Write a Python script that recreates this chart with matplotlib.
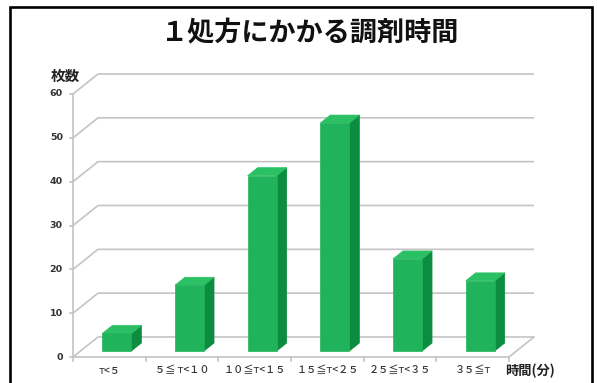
import matplotlib
matplotlib.use("Agg")
import matplotlib.pyplot as plt
from matplotlib.patches import Polygon, Rectangle

plt.rcParams['font.family'] = ['Noto Sans CJK JP', 'DejaVu Sans']

# --- data ---
title = "１処方にかかる調剤時間"
categories = ["ᴛ<５", "５≦ ᴛ<１０", "１０≦ᴛ<１５", "１５≦ᴛ<２５", "２５≦ᴛ<３５", "３５≦ᴛ"]
counts = [4, 15, 40, 52, 21, 16]
y_ticks = [0, 10, 20, 30, 40, 50, 60]
y_label = "枚数"
x_label = "時間(分)"

# --- style ---
W, H = 597, 383
green_front = "#21b35b"
green_side = "#0c8c3e"
green_top = "#2bc064"
grid_col = "#c4c4c4"

fig = plt.figure(figsize=(W / 100, H / 100), dpi=100)
fig.patch.set_facecolor("white")

# front plane of the 3D box in pixel geometry
x0, x1 = 73, 509
ybot, ytop = 357, 94
ax = fig.add_axes([x0 / W, (H - ybot) / H, (x1 - x0) / W, (ybot - ytop) / H])
n = len(categories)
ax.set_xlim(0, n)
ax.set_ylim(0, 60)
ax.axis("off")

# depth of the box expressed in data units
DX = 25 / ((x1 - x0) / n)
DY = 20 / ((ybot - ytop) / 60)

lw_grid = 1.2
# back wall and left wall gridlines
for v in y_ticks:
    ax.plot([0, DX, n + DX], [v, v + DY, v + DY], color=grid_col, lw=lw_grid,
            clip_on=False, solid_capstyle="butt", zorder=1)
# front-left axis line
ax.plot([0, 0], [0, 60], color=grid_col, lw=lw_grid, clip_on=False, zorder=1)
# floor front edge and right edge
ax.plot([0, n, n + DX], [0, 0, DY], color=grid_col, lw=lw_grid, clip_on=False, zorder=1)

# tick marks
tick_dx = 3 / ((x1 - x0) / n)
tick_dy = 4 / ((ybot - ytop) / 60)
for v in y_ticks:
    ax.plot([0, -tick_dx], [v, v], color=grid_col, lw=lw_grid, clip_on=False, zorder=1)
    ax.text(-0.14, v, str(v), ha="right", va="center", fontsize=6.8,
            fontweight="bold", color="#333333", family="DejaVu Sans")
for k in range(n + 1):
    ax.plot([k, k], [0, -tick_dy], color=grid_col, lw=lw_grid, clip_on=False, zorder=1)

# bars: front face at 30% of depth, back at 70%
f0, f1 = 0.3, 0.7
bw = 0.4
for k, v in enumerate(counts):
    xl = k + 0.5 - bw / 2
    xr = k + 0.5 + bw / 2
    ox0, oy0 = f0 * DX, f0 * DY
    ox1, oy1 = f1 * DX, f1 * DY
    front = [(xl + ox0, oy0), (xr + ox0, oy0), (xr + ox0, oy0 + v), (xl + ox0, oy0 + v)]
    side = [(xr + ox0, oy0), (xr + ox1, oy1), (xr + ox1, oy1 + v), (xr + ox0, oy0 + v)]
    top = [(xl + ox0, oy0 + v), (xr + ox0, oy0 + v), (xr + ox1, oy1 + v), (xl + ox1, oy1 + v)]
    for pts, c in ((side, green_side), (top, green_top), (front, green_front)):
        ax.add_patch(Polygon(pts, closed=True, facecolor=c, edgecolor=c, lw=0.5,
                             clip_on=False, zorder=3))
    ax.text(k + 0.5, -3.1, categories[k], ha="center", va="center", fontsize=7.3,
            fontweight="medium", color="#333333")

# axis titles
ax.text(-0.3, 60 + DY - 0.5, y_label, ha="left", va="center", fontsize=10.5,
        fontweight="bold", color="#222222")
ax.text(n - 0.05, -3.3, x_label, ha="left", va="center", fontsize=9.5,
        fontweight="bold", color="#222222")

# chart title
fig.text(310 / W, 1 - 33 / H, title, ha="center", va="center", fontsize=19.5,
         fontweight="bold", color="#111111")

# outer frame
fig.patches.append(Rectangle((10 / W, -0.05), (592 - 10) / W, (H - 7) / H + 0.05,
                             transform=fig.transFigure, fill=False, edgecolor="black",
                             lw=1.9, zorder=10))

fig.savefig("out.png", dpi=100, facecolor="white")
